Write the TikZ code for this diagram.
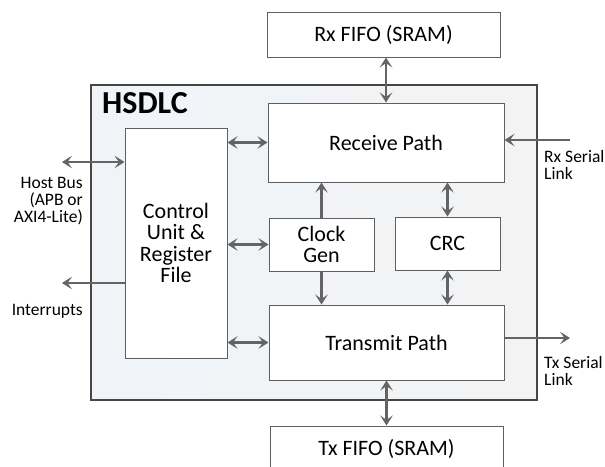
\documentclass[tikz,border=0pt]{standalone}
\usepackage{fontspec}
\setmainfont{Carlito}
\usetikzlibrary{arrows.meta,calc}
\definecolor{arrgray}{RGB}{100,100,100}
\definecolor{boxline}{RGB}{95,95,95}
\definecolor{outerline}{RGB}{70,70,70}
\definecolor{fillA}{RGB}{240,244,249}
\definecolor{fillB}{RGB}{243,243,243}
\tikzset{
  blk/.style={draw=boxline, line width=1pt, fill=white, inner sep=0pt, align=center,
    font=\fontsize{22}{21.5}\selectfont},
  tip/.tip={Stealth[length=10pt,width=12.5pt,inset=4.5pt]},
  arr/.style={draw=arrgray, line width=2.8pt, arrows={-tip}},
  darr/.style={draw=arrgray, line width=2.8pt, arrows={tip-tip}},
  lbl/.style={inner sep=0pt, font=\fontsize{17.5}{17}\selectfont}
}
\begin{document}
\begin{tikzpicture}[x=1pt,y=-1pt]
\clip (0,0) rectangle (605,466);
\fill[white] (0,0) rectangle (605,466);
% outer HSDLC box
\shade[left color=fillA, right color=fillB] (91,85) rectangle (537,400);
\draw[outerline, line width=1.3pt] (91,85) rectangle (537,400);
\node[anchor=base west, inner sep=0pt, font=\fontsize{32}{32}\selectfont\bfseries] (title) at (102,113) {HSDLC};

% blocks
\node[blk, minimum width=233pt, minimum height=45pt] (rxfifo) at (383.5,34.5) {Rx FIFO (SRAM)};
\node[blk, minimum width=102pt, minimum height=230pt] (ctrl) at (176,243) {Control\\Unit \&\\Register\\File};
\node[blk, minimum width=236pt, minimum height=79pt] (rx) at (386,142.5) {Receive Path};
\node[blk, minimum width=105pt, minimum height=53pt] (clk) at (321.5,244.5) {Clock\\Gen};
\node[blk, minimum width=105pt, minimum height=53pt] (crc) at (447.5,243.5) {CRC};
\node[blk, minimum width=235pt, minimum height=75pt] (tx) at (386.5,342.5) {Transmit Path};
\node[blk, minimum width=233pt, minimum height=45pt] (txfifo) at (386.5,448.5) {Tx FIFO (SRAM)};

% external coordinates
\coordinate (hostend) at (62,162);
\coordinate (intend) at (62,283);
\coordinate (rxsend) at (570,140);
\coordinate (txsend) at (570,338);

% connectors
\draw[darr] (rxfifo.south -| rx.north) -- (rx.north);
\draw[darr] (tx.south) -- (txfifo.north -| tx.south);
\draw[darr] (hostend) -- (ctrl.west |- hostend);
\draw[arr] (ctrl.west |- intend) -- (intend);
\draw[darr] (ctrl.east |- rx.west) -- (rx.west);
\draw[darr] (ctrl.east |- clk.west) -- (clk.west);
\draw[darr] (ctrl.east |- tx.west) -- (tx.west);
\draw[arr] (clk.north) -- (rx.south -| clk.north);
\draw[arr] (clk.south) -- (tx.north -| clk.south);
\draw[darr] (crc.north) -- (rx.south -| crc.north);
\draw[darr] (crc.south) -- (tx.north -| crc.south);
\draw[arr] (rxsend) -- (rx.east |- rxsend);
\draw[arr] (tx.east |- txsend) -- (txsend);

% labels
\node[lbl, align=right, anchor=base east] (hostlbl) at (83,222) {Host Bus\\(APB or\\AXI4-Lite)};
\node[lbl, anchor=base east] (intlbl) at (83,315) {Interrupts};
\node[lbl, align=left, anchor=base west] (rxlbl) at (544,179) {Rx Serial\\Link};
\node[lbl, align=left, anchor=base west] (txlbl) at (544,385) {Tx Serial\\Link};
\end{tikzpicture}
\end{document}
